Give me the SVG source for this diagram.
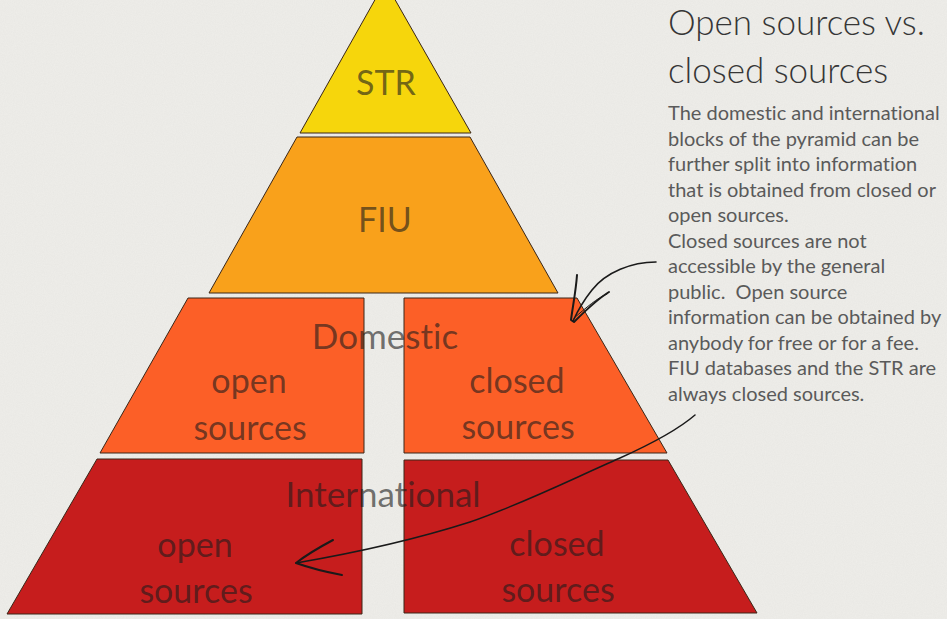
<svg xmlns="http://www.w3.org/2000/svg" width="947" height="619" viewBox="0 0 947 619">
  <defs>
    <filter id="canvas" x="0" y="0" width="100%" height="100%">
      <feTurbulence type="fractalNoise" baseFrequency="0.9" numOctaves="2" seed="4" result="n"/>
      <feColorMatrix in="n" type="matrix" values="0 0 0 0 0.55  0 0 0 0 0.55  0 0 0 0 0.53  0 0 0 0.16 0"/>
    </filter>
    <style>
      text { font-variant-ligatures: none; }
      .blk { stroke: #3a2618; stroke-width: 1; stroke-linejoin: miter; }
      .str { fill: #f6d60c; }
      .fiu { fill: #f9a11b; }
      .dom { fill: #fc5f27; }
      .intl { fill: #c61d1d; }
      .lbl { font-family: "Lato", "Open Sans", "Liberation Sans", sans-serif; font-size: 34px; fill: #1c1c1c; fill-opacity: 0.62; text-anchor: middle; }
      .wide { font-size: 35px; }
      .title { font-family: "Lato", "Open Sans", "Liberation Sans", sans-serif; font-weight: 300; font-size: 35px; fill: #363636; }
      .body { font-family: "Lato", "Open Sans", "Liberation Sans", sans-serif; font-size: 20px; fill: #5a5a5a; }
      .ink { fill: none; stroke: #1a1a1a; stroke-linecap: round; stroke-linejoin: round; }
    </style>
  </defs>

  <!-- canvas background -->
  <rect width="947" height="619" fill="#efeeea"/>
  <rect width="947" height="619" filter="url(#canvas)"/>

  <!-- pyramid tiers -->
  <g id="str">
    <polygon class="blk str" points="385,-18 471,133 300,133"/>
    <text class="lbl" x="386" y="95">STR</text>
  </g>
  <g id="fiu">
    <polygon class="blk fiu" points="297,137 470,137 558,293 209,293"/>
    <text class="lbl" x="385" y="232">FIU</text>
  </g>
  <g id="domestic-open">
    <polygon class="blk dom" points="188,298 364,298 364,453 100,453"/>
    <text class="lbl" x="249" y="393">open</text>
    <text class="lbl" x="250" y="440">sources</text>
  </g>
  <g id="domestic-closed">
    <polygon class="blk dom" points="404,298 577,298 667,453 404,453"/>
    <text class="lbl" x="517" y="393">closed</text>
    <text class="lbl" x="518" y="439">sources</text>
  </g>
  <g id="international-open">
    <polygon class="blk intl" points="97,459 362,459 362,614 7,614"/>
    <text class="lbl" x="195" y="557">open</text>
    <text class="lbl" x="196" y="603">sources</text>
  </g>
  <g id="international-closed">
    <polygon class="blk intl" points="404,460 668,460 757,613 404,613"/>
    <text class="lbl" x="557" y="556">closed</text>
    <text class="lbl" x="558" y="602">sources</text>
  </g>

  <!-- tier names spanning both halves -->
  <g id="tier-names">
    <text class="lbl wide" x="385" y="349">Domestic</text>
    <text class="lbl wide" x="383" y="507">International</text>
  </g>

  <!-- explanatory text -->
  <g id="notes">
    <text class="title" x="668" y="35">Open sources vs.</text>
    <text class="title" x="668" y="83">closed sources</text>
    <text class="body" x="668" y="120">The domestic and international</text>
    <text class="body" x="668" y="145.5">blocks of the pyramid can be</text>
    <text class="body" x="668" y="171">further split into information</text>
    <text class="body" x="668" y="196.5">that is obtained from closed or</text>
    <text class="body" x="668" y="222">open sources.</text>
    <text class="body" x="668" y="247.5">Closed sources are not</text>
    <text class="body" x="668" y="273">accessible by the general</text>
    <text class="body" x="668" y="298.5" xml:space="preserve">public.  Open source</text>
    <text class="body" x="668" y="324">information can be obtained by</text>
    <text class="body" x="668" y="349.5">anybody for free or for a fee.</text>
    <text class="body" x="668" y="375">FIU databases and the STR are</text>
    <text class="body" x="668" y="400.5">always closed sources.</text>
  </g>

  <!-- hand-drawn pointers -->
  <g id="connectors">
    <path class="ink" stroke-width="1.6" d="M656,262 C632,262 606,272 592,290 C584,300 578,310 573,321"/>
    <path class="ink" stroke-width="2" d="M577,275 C576,290 573,305 571,320 L574,322 C584,312 596,300 609,292"/>
    <path class="ink" stroke-width="1" d="M574,318 C586,308 597,298 607,294"/>
    <path class="ink" stroke-width="1.5" d="M695,415 C680,428 660,440 620,458 C570,480 520,505 470,522 C420,538 360,552 296,563"/>
    <path class="ink" stroke-width="2" d="M333,540 C318,548 305,556 296,563 C310,568 326,572 342,575"/>
  </g>
</svg>
